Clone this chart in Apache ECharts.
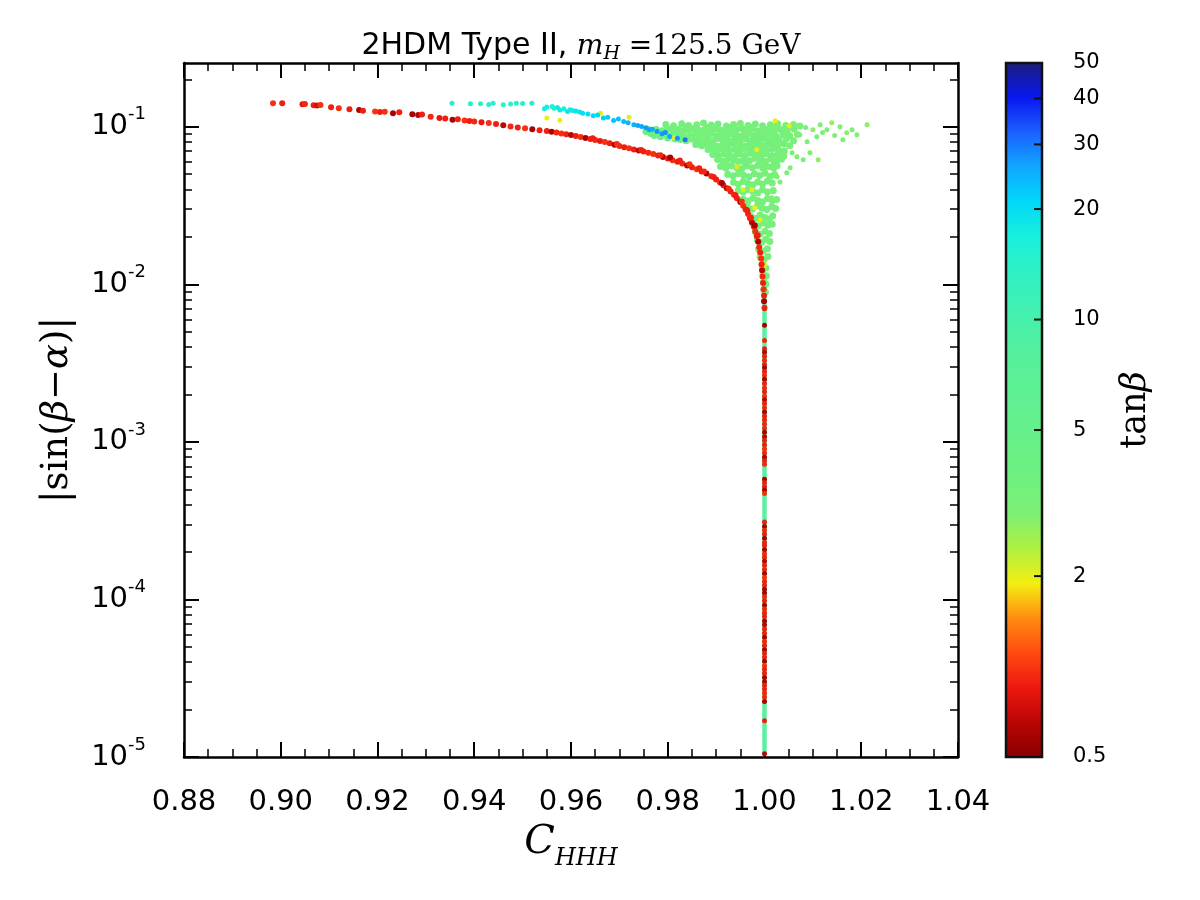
<!DOCTYPE html>
<html>
<head>
<meta charset="utf-8">
<script src="https://cdn.jsdelivr.net/npm/echarts@6/dist/echarts.min.js"></script>
<style>
html, body { margin: 0; padding: 0; background: #fff; }
#chart { width: 1200px; height: 900px; }
</style>
</head>
<body>
<div id="chart"></div>
<script>
// points are [C_HHH, |sin(beta-alpha)|, tan(beta)]

// red branch, tan(beta) < ~1.2
var redCurve = [
  [0.8984,0.141,1.1],[0.9003,0.141,1.02],[0.9045,0.139,0.95],[0.9050,0.1395,1.06],[0.9068,0.137,1.02],
  [0.9075,0.1365,0.88],[0.9082,0.1375,1.1],[0.9104,0.133,1.02],[0.9120,0.131,1.1],[0.9142,0.129,1.02],
  [0.9162,0.128,0.74],[0.9170,0.1265,1.02],[0.9195,0.125,1.12],[0.9205,0.124,1.02],[0.9215,0.1245,1.1],
  [0.9232,0.122,0.74],[0.9245,0.1235,1.02],[0.9272,0.120,0.72],[0.9284,0.119,0.8],[0.9292,0.1195,1.02],
  [0.9310,0.116,1.06],[0.9328,0.1135,0.98],[0.9340,0.113,1.02],[0.9355,0.111,0.74],[0.9366,0.1115,1.02],
  [0.9380,0.1098,1.1],[0.9390,0.109,1.02],
  [0.9400,0.1080,1.06],[0.9415,0.1070,0.98],[0.9430,0.1058,1.1],[0.9445,0.1040,1.02],[0.9460,0.1022,0.8],
  [0.9475,0.1005,1.06],[0.9490,0.0990,1.02],[0.9505,0.0978,1.1],[0.9520,0.0963,0.74],[0.9535,0.0952,1.02],
  [0.9550,0.0940,1.02],[0.9560,0.0930,0.74],[0.9570,0.0921,1.06],[0.9580,0.0908,1.1],[0.9590,0.0897,1.02],
  [0.9600,0.0886,0.8],[0.9610,0.0874,1.02],[0.9620,0.0862,1.1],[0.9630,0.0850,0.74],[0.9640,0.0836,1.02],
  [0.9650,0.0824,1.06],[0.9660,0.0812,0.98],[0.9670,0.0800,1.1],[0.9680,0.0785,1.02],[0.9690,0.0770,0.74],
  [0.9700,0.0756,1.06],[0.9710,0.0742,1.02],[0.9720,0.0730,1.1],[0.9730,0.0718,1.02],[0.9740,0.0708,0.8],
  [0.9750,0.0697,1.02],[0.9760,0.0684,1.06],[0.9770,0.0672,1.1],[0.9780,0.0657,1.02],[0.9790,0.0642,0.74],
  [0.9800,0.0628,1.02],[0.9810,0.0614,1.1],[0.9820,0.0600,1.02],[0.9830,0.0585,1.06],[0.9840,0.0568,0.8],
  [0.9850,0.0553,1.02],[0.9860,0.0538,1.1],[0.9870,0.0521,1.02],[0.9880,0.0505,0.74],[0.9890,0.0486,1.06],
  [0.9900,0.0463,1.02],[0.9908,0.0443,1.1],[0.9915,0.0425,1.02],[0.9922,0.0407,0.8],[0.9930,0.0388,1.02],
  [0.9937,0.0370,1.06],[0.9943,0.0352,1.02],[0.9950,0.0333,0.74],[0.9956,0.0315,1.1],[0.9961,0.0298,1.02],
  [0.9966,0.0280,1.06],[0.9970,0.0263,1.02],[0.9974,0.0247,0.8],[0.9978,0.0232,1.02],[0.9981,0.0217,1.1],
  [0.9984,0.0202,1.02],[0.9987,0.0186,0.74],[0.9989,0.0172,1.06],[0.9991,0.0159,1.02],[0.9993,0.0146,1.1],
  [0.9994,0.0134,1.02],[0.9995,0.0123,0.8],[0.9996,0.0112,1.06],[0.9997,0.0102,1.02],[0.9998,0.0093,1.1],
  [0.9999,0.0085,1.02],[0.9999,0.0078,0.74],[1.0000,0.0071,1.06],
  [0.9645,0.0845,1.02],[0.9695,0.0778,1.1],[0.9745,0.0712,1.02],[0.9785,0.0660,1.06],[0.9805,0.0638,0.74],
  [0.9825,0.0610,1.02],[0.9845,0.0578,1.1],[0.9865,0.0545,1.02],[0.9875,0.0520,1.06],[0.9895,0.0480,1.02],
  [0.9912,0.0440,0.74],[0.9926,0.0405,1.06],[0.9940,0.0368,1.02],[0.9953,0.0336,1.1],[0.9964,0.0295,1.02],
  [0.9972,0.0265,1.06],[0.9980,0.0236,0.74],[0.9986,0.0205,1.02]
];

// red points on the C_HHH = 1 stem
var redStem = [
  [1.0,7.0e-3,1.02],[1.0,5.5e-3,0.74],[1.0,4.4e-3,1.06],[1.0,3.9e-3,1.02],[1.0,3.7e-3,0.8],[1.0,3.5e-3,1.02],
  [1.0,3.3e-3,1.06],[1.0,3.1e-3,1.02],[1.0,2.95e-3,0.74],[1.0,2.8e-3,1.02],[1.0,2.65e-3,1.06],[1.0,2.5e-3,0.74],
  [1.0,2.35e-3,1.02],[1.0,2.2e-3,1.06],[1.0,2.08e-3,1.02],[1.0,1.95e-3,1.1],[1.0,1.85e-3,0.8],[1.0,1.75e-3,1.02],
  [1.0,1.65e-3,1.06],[1.0,1.55e-3,0.74],[1.0,1.46e-3,1.02],[1.0,1.38e-3,1.02],[1.0,1.3e-3,1.06],[1.0,1.22e-3,1.06],
  [1.0,1.15e-3,0.74],[1.0,1.08e-3,0.8],[1.0,1.02e-3,1.02],[1.0,9.6e-4,1.02],[1.0,9.0e-4,1.1],[1.0,8.5e-4,1.06],
  [1.0,8.0e-4,0.74],[1.0,7.6e-4,1.02],[1.0,7.2e-4,1.06],[1.0,5.8e-4,0.74],[1.0,5.5e-4,1.02],[1.0,5.2e-4,1.02],
  [1.0,4.95e-4,0.74],[1.0,4.7e-4,1.1],[1.0,3.1e-4,1.02],[1.0,2.9e-4,0.74],[1.0,2.75e-4,1.06],[1.0,2.6e-4,1.02],
  [1.0,2.45e-4,0.74],[1.0,2.3e-4,1.02],[1.0,2.2e-4,1.02],[1.0,2.07e-4,0.74],[1.0,1.95e-4,1.06],[1.0,1.85e-4,1.02],
  [1.0,1.75e-4,0.8],[1.0,1.65e-4,1.02],[1.0,1.55e-4,1.02],[1.0,1.46e-4,0.74],[1.0,1.38e-4,1.1],[1.0,1.3e-4,1.02],
  [1.0,1.23e-4,1.02],[1.0,1.16e-4,0.74],[1.0,1.1e-4,0.74],[1.0,1.04e-4,1.06],[1.0,9.8e-5,1.02],[1.0,9.2e-5,0.74],
  [1.0,8.7e-5,1.06],[1.0,8.2e-5,1.02],[1.0,7.8e-5,1.02],[1.0,7.3e-5,0.74],[1.0,6.9e-5,0.8],[1.0,6.5e-5,1.02],
  [1.0,6.1e-5,1.02],[1.0,5.75e-5,0.74],[1.0,5.4e-5,1.06],[1.0,5.1e-5,1.02],[1.0,4.8e-5,0.74],[1.0,4.55e-5,1.02],
  [1.0,4.3e-5,1.02],[1.0,4.05e-5,0.74],[1.0,3.8e-5,1.1],[1.0,3.6e-5,1.02],[1.0,3.4e-5,1.02],[1.0,3.2e-5,0.74],
  [1.0,3.0e-5,0.74],[1.0,2.85e-5,1.02],[1.0,2.7e-5,1.02],[1.0,2.55e-5,1.06],[1.0,2.4e-5,1.06],[1.0,2.25e-5,0.74],
  [1.0,1.7e-5,1.02],[1.0,1.05e-5,0.8]
];

// green band under the red stem (tan(beta) ~ 6)
var greenStem = [[1.0, 0.0115], [1.0, 1.05e-5]];

// green cloud, tan(beta) ~ 3-5
var greenCloud = [
  [0.9796,0.1035,3.4],[0.9812,0.1015,3.2],[0.9829,0.1045,3.5],[0.9843,0.1020,3.3],[0.9860,0.1030,3.1],
  [0.9874,0.1055,3.4],[0.9890,0.1025,3.3],[0.9904,0.1040,3.6],[0.9921,0.1010,3.2],[0.9936,0.1035,3.3],
  [0.9950,0.1050,3.0],[0.9966,0.1020,3.4],[0.9981,0.1040,3.3],[0.9996,0.1015,3.5],[1.0012,0.1030,3.2],
  [1.0027,0.1045,3.0],[1.0044,0.1020,3.3],[1.0060,0.1035,2.9],[1.0073,0.1010,3.1],
  [0.9776,0.0960,4.2],[0.9788,0.0945,3.8],[0.9800,0.0972,3.5],[0.9811,0.0950,3.4],[0.9822,0.0965,3.6],
  [0.9833,0.0942,3.3],[0.9844,0.0958,3.2],[0.9855,0.0975,3.4],[0.9866,0.0948,3.3],[0.9877,0.0962,3.1],
  [0.9888,0.0940,3.5],[0.9899,0.0968,3.3],[0.9910,0.0952,3.2],[0.9921,0.0970,3.4],[0.9932,0.0944,3.3],
  [0.9943,0.0960,3.6],[0.9954,0.0975,3.2],[0.9965,0.0948,3.3],[0.9976,0.0963,3.4],[0.9987,0.0941,3.1],
  [0.9998,0.0958,3.3],[1.0009,0.0972,3.5],[1.0020,0.0946,3.2],[1.0033,0.0962,3.3],[1.0047,0.0950,3.0],
  [1.0061,0.0967,3.2],
  [0.9796,0.0895,4.5],[0.9808,0.0880,4.0],[0.9820,0.0902,3.6],[0.9832,0.0885,3.4],[0.9844,0.0872,3.3],
  [0.9856,0.0896,3.5],[0.9867,0.0878,3.2],[0.9879,0.0890,3.3],[0.9890,0.0905,3.4],[0.9901,0.0876,3.3],
  [0.9912,0.0893,3.1],[0.9923,0.0881,3.5],[0.9934,0.0899,3.3],[0.9945,0.0870,3.2],[0.9956,0.0887,3.4],
  [0.9967,0.0902,3.3],[0.9978,0.0875,3.6],[0.9989,0.0892,3.2],[1.0000,0.0880,3.3],[1.0012,0.0897,3.4],
  [1.0024,0.0873,3.1],[1.0038,0.0889,3.3],[1.0052,0.0878,3.2],[1.0068,0.0893,3.0],
  [0.9826,0.0830,4.0],[0.9838,0.0815,3.6],[0.9850,0.0838,3.4],[0.9862,0.0822,3.3],[0.9873,0.0810,3.5],
  [0.9884,0.0834,3.2],[0.9895,0.0819,3.3],[0.9906,0.0842,3.4],[0.9917,0.0825,3.3],[0.9928,0.0812,3.1],
  [0.9939,0.0836,3.5],[0.9950,0.0820,3.3],[0.9961,0.0840,3.2],[0.9972,0.0816,3.4],[0.9983,0.0831,3.3],
  [0.9994,0.0845,3.6],[1.0005,0.0818,3.2],[1.0017,0.0833,3.3],[1.0030,0.0822,3.4],[1.0045,0.0838,3.1],
  [1.0060,0.0815,3.3],
  [0.9858,0.0772,3.6],[0.9870,0.0758,3.4],[0.9881,0.0780,3.3],[0.9892,0.0764,3.5],[0.9903,0.0752,3.2],
  [0.9914,0.0776,3.3],[0.9925,0.0760,3.4],[0.9936,0.0785,3.3],[0.9947,0.0768,3.1],[0.9958,0.0755,3.5],
  [0.9969,0.0778,3.3],[0.9980,0.0762,3.2],[0.9991,0.0783,3.4],[1.0002,0.0757,3.3],[1.0014,0.0774,3.6],
  [1.0027,0.0763,3.2],[1.0040,0.0779,3.3],[1.0052,0.0758,3.1],
  [0.9883,0.0718,3.4],[0.9894,0.0705,3.3],[0.9905,0.0726,3.5],[0.9916,0.0710,3.2],[0.9927,0.0698,3.3],
  [0.9938,0.0721,3.4],[0.9949,0.0707,3.3],[0.9960,0.0729,3.1],[0.9971,0.0712,3.5],[0.9982,0.0700,3.3],
  [0.9993,0.0723,3.2],[1.0004,0.0708,3.4],[1.0016,0.0725,3.3],[1.0029,0.0711,3.2],[1.0041,0.0702,3.4],
  [0.9893,0.0668,3.3],[0.9905,0.0655,3.5],[0.9916,0.0675,3.2],[0.9927,0.0660,3.3],[0.9938,0.0648,3.4],
  [0.9949,0.0671,3.3],[0.9960,0.0657,3.1],[0.9971,0.0678,3.5],[0.9982,0.0662,3.3],[0.9993,0.0650,3.2],
  [1.0004,0.0673,3.4],[1.0016,0.0658,3.3],[1.0028,0.0670,3.2],[1.0040,0.0653,3.0],
  [0.9903,0.0620,3.4],[0.9914,0.0607,3.3],[0.9925,0.0628,3.2],[0.9936,0.0612,3.5],[0.9947,0.0601,3.3],
  [0.9958,0.0624,3.4],[0.9969,0.0609,3.3],[0.9980,0.0630,3.1],[0.9991,0.0615,3.3],[1.0002,0.0603,3.5],
  [1.0013,0.0626,3.2],[1.0025,0.0611,3.3],[1.0035,0.0622,3.1],
  [0.9909,0.0560,3.3],[0.9920,0.0548,3.4],[0.9931,0.0566,3.2],[0.9942,0.0552,3.3],[0.9953,0.0541,3.5],
  [0.9964,0.0563,3.3],[0.9975,0.0550,3.2],[0.9986,0.0568,3.4],[0.9997,0.0545,3.3],[1.0008,0.0558,3.1],
  [1.0019,0.0547,3.3],[1.0026,0.0565,3.2],
  [0.9924,0.0500,3.3],[0.9935,0.0488,3.4],[0.9946,0.0506,3.2],[0.9957,0.0492,3.3],[0.9968,0.0482,3.5],
  [0.9979,0.0503,3.3],[0.9990,0.0490,3.2],[1.0001,0.0508,3.4],[1.0012,0.0486,3.3],[1.0021,0.0498,3.2],
  [0.9936,0.0444,3.4],[0.9946,0.0432,3.3],[0.9956,0.0450,3.2],[0.9966,0.0437,3.5],[0.9976,0.0428,3.3],
  [0.9986,0.0447,3.3],[0.9996,0.0434,3.2],[1.0006,0.0452,3.4],[1.0016,0.0440,3.3],
  [0.9946,0.0395,3.3],[0.9956,0.0385,3.4],[0.9966,0.0400,3.2],[0.9976,0.0388,3.3],[0.9986,0.0380,3.5],
  [0.9996,0.0398,3.3],[1.0006,0.0386,3.2],[1.0018,0.0394,3.3],
  [0.9956,0.0348,3.3],[0.9966,0.0338,3.4],[0.9976,0.0352,3.2],[0.9986,0.0341,3.3],[0.9996,0.0334,3.5],
  [1.0006,0.0350,3.3],[1.0016,0.0340,3.2],[1.0025,0.0346,3.1],
  [0.9965,0.0310,3.3],[0.9975,0.0301,3.4],[0.9985,0.0315,3.2],[0.9995,0.0304,3.3],[1.0005,0.0298,3.5],
  [1.0015,0.0312,3.3],[1.0023,0.0303,3.2],
  [0.9971,0.0271,3.3],[0.9981,0.0263,3.4],[0.9991,0.0275,3.2],[1.0001,0.0266,3.3],[1.0010,0.0260,3.5],
  [1.0017,0.0272,3.3],
  [0.9977,0.0242,3.3],[0.9987,0.0235,3.4],[0.9997,0.0245,3.2],[1.0007,0.0237,3.3],[1.0016,0.0241,3.3],
  [0.9981,0.0215,3.4],[0.9991,0.0208,3.3],[1.0001,0.0217,3.2],[1.0010,0.0210,3.3],
  [0.9985,0.0191,3.3],[0.9994,0.0185,3.4],[1.0003,0.0193,3.3],[1.0011,0.0187,3.2],
  [0.9988,0.0167,3.3],[0.9997,0.0162,3.4],[1.0006,0.0168,3.3],
  [0.9991,0.0149,3.3],[0.9999,0.0144,3.5],[1.0007,0.0150,3.3],
  [0.9995,0.0131,3.4],[1.0003,0.0127,3.3],
  [0.9997,0.0117,3.4],[1.0004,0.0113,3.3],
  [0.9998,0.0104,3.3],[1.0003,0.0100,3.4],
  [0.9999,0.0092,3.4],[1.0002,0.0089,3.3],
  [0.9760,0.0960,5.0],[0.9755,0.0935,4.8],[0.9765,0.0905,4.5],[0.9772,0.0880,4.2],[0.9785,0.0865,4.0],
  [0.9800,0.0850,3.8],[0.9815,0.0838,3.6],
  [0.9838,0.0990,3.3],[0.9885,0.0995,3.2],[0.9930,0.0992,3.4],[0.9975,0.0990,3.3],[1.0020,0.0995,3.1],
  [0.9870,0.0920,3.3],[0.9915,0.0918,3.4],[0.9960,0.0922,3.2],[1.0005,0.0920,3.3],[1.0045,0.0918,3.1],
  [0.9880,0.0795,3.3],[0.9930,0.0798,3.2],[0.9975,0.0796,3.4],[1.0020,0.0800,3.3],
  [0.9900,0.0690,3.4],[0.9945,0.0688,3.3],[0.9990,0.0692,3.2],[1.0030,0.0690,3.3],
  [0.9920,0.0585,3.3],[0.9960,0.0588,3.4],[1.0000,0.0584,3.2],[1.0020,0.0590,3.3]
];

// sparse wing to the right of the cloud
var greenWing = [
  [1.0073,0.0890,3.0],[1.0088,0.0803,3.1],[1.0100,0.0957,2.8],[1.0115,0.1030,3.0],[1.0108,0.0864,3.2],
  [1.0094,0.0683,2.9],[1.0080,0.0617,3.1],[1.0111,0.0617,2.8],[1.0129,0.0957,3.0],[1.0139,0.1060,2.7],
  [1.0156,0.1000,3.0],[1.0162,0.0827,3.1],[1.0170,0.0916,2.8],[1.0181,0.0957,3.0],[1.0191,0.0890,2.9],
  [1.0212,0.1030,2.8],[1.0046,0.0510,3.1],[1.0053,0.0549,3.0],[1.0067,0.0645,2.9],[1.0057,0.0683,3.2],
  [1.0026,0.0481,3.1],[1.0032,0.0447,3.0],[1.0018,0.0387,3.2],[1.0015,0.0354,3.1],[1.0085,0.0990,3.0],
  [1.0120,0.0920,2.9],[1.0145,0.0880,3.0]
];

// tan(beta) ~ 2 points
var yellowPts = [
  [1.0022,0.1092,1.95],[1.0051,0.1015,2.05],[0.9813,0.0852,2.0],[0.9943,0.0557,2.1],[0.9984,0.0714,2.0],
  [0.9956,0.0398,2.1],[0.9974,0.0398,2.0],[0.9980,0.0306,1.95],[0.9991,0.0257,2.05],[1.0001,0.0133,2.1],
  [0.9550,0.1135,1.95],[0.9577,0.1100,2.0],[0.9661,0.1220,2.0],[0.9720,0.1150,2.05]
];

// cyan / blue branch, tan(beta) ~ 14-30
var blueBranch = [
  [0.9354,0.141,15],[0.9392,0.140,15],[0.9413,0.140,14],[0.9439,0.141,15],[0.9460,0.138,14],
  [0.9487,0.141,15],[0.9519,0.141,15],[0.9430,0.1385,15],[0.9475,0.1395,14],[0.9500,0.1405,15],
  [0.9545,0.130,17],[0.9561,0.1346,16],[0.9577,0.128,18],[0.9593,0.125,19],[0.9603,0.127,18],
  [0.9624,0.122,20],[0.9646,0.1175,21],[0.9667,0.1135,22],[0.9688,0.1096,23],[0.9709,0.108,24],
  [0.9730,0.103,25],[0.9746,0.1003,26],[0.9762,0.0957,27],[0.9778,0.0933,28],[0.9788,0.0903,27],
  [0.9804,0.0868,26],[0.9820,0.0847,28],[0.9836,0.0826,30],
  [0.9550,0.1335,17],[0.9565,0.1310,16],[0.9572,0.1325,18],[0.9585,0.1300,17],[0.9598,0.1285,18],
  [0.9610,0.1260,19],[0.9618,0.1240,19],[0.9635,0.1205,20],[0.9655,0.1190,21],[0.9676,0.1150,22],
  [0.9698,0.1120,23],[0.9718,0.1060,25],[0.9738,0.1020,26],[0.9755,0.0985,27],[0.9768,0.0965,26],
  [0.9795,0.0920,28]
];

// axes
var xTicks = [0.88, 1.04];
var yDecades = [1e-5, 1e-4, 1e-3, 1e-2, 1e-1];
var yMinor = [
  2e-5,3e-5,4e-5,5e-5,6e-5,7e-5,8e-5,9e-5,
  2e-4,3e-4,4e-4,5e-4,6e-4,7e-4,8e-4,9e-4,
  2e-3,3e-3,4e-3,5e-3,6e-3,7e-3,8e-3,9e-3,
  2e-2,3e-2,4e-2,5e-2,6e-2,7e-2,8e-2,9e-2,
  2e-1
];
var yRange = [1e-5, 0.254];

// colour bar: log scale, its lower end (tan(beta) ~ 0.64) carries the label 0.5
var cbLabels = [0.5, 2, 5, 10, 20, 30, 40, 50];
var cbTicks = [2, 5, 10, 20, 30, 40];
var cbLow = 0.643, cbHigh = 50;
var jetColors = ['#880000','#bb0505','#ee1810','#ff4a10','#ff8c10','#f4ee12','#b0f040','#7cf074',
  '#70f080','#68f088','#62f090','#5af098','#50f0a2','#40f0b2','#30f0c4','#18f0dc','#00d8f8',
  '#10a8ff','#1c60ff','#0818f0','#1c1c7c'];

function lg(v) { return Math.log(v) / Math.LN10; }
function toSeries(arr) {
  return arr.map(function (p) { return [p[0], p[1], lg(p[2])]; });
}
var cbLabelPos = cbLabels.map(function (v) { return lg(Math.max(v, cbLow)); });

// gradient for the colour bar: same evenly spaced stops the visualMap uses, top = high
var cbStops = jetColors.map(function (c, i) {
  return { offset: 1 - i / (jetColors.length - 1), color: c };
}).reverse();

var chart = echarts.init(document.getElementById('chart'));

var axisLineBlack = { show: true, onZero: false, lineStyle: { color: '#000', width: 2.5 } };
var tickFont = 'DejaVu Sans';
var serif = 'DejaVu Serif';

function mainY(pos, minor, withLabel, name) {
  var ax = {
    type: 'log', gridIndex: 0, position: pos, min: yRange[0], max: yRange[1],
    splitLine: { show: false },
    axisLine: minor ? { show: false, onZero: false } : axisLineBlack,
    axisTick: {
      show: true, inside: true, length: minor ? 8 : 15,
      customValues: minor ? yMinor : yDecades,
      lineStyle: { color: '#000', width: minor ? 1.5 : 2 }
    },
    axisLabel: { show: false }
  };
  if (withLabel) {
    ax.axisLabel = {
      show: true, customValues: yDecades, margin: 38,
      formatter: function (v) {
        return '{b|10}{e|' + Math.round(lg(v)) + '}';
      },
      rich: {
        b: { fontFamily: tickFont, fontSize: 29, color: '#000' },
        e: { fontFamily: tickFont, fontSize: 18, color: '#000', padding: [0, 0, 24, 0] }
      }
    };
  }
  if (name) {
    ax.name = '{r||sin(}{g|\u03b2}{r|\u2212}{g|\u03b1}{r|)|}';
    ax.nameLocation = 'middle';
    ax.nameRotate = 90;
    ax.nameGap = 108;
    ax.nameTextStyle = {
      rich: {
        r: { fontFamily: serif, fontSize: 37, color: '#000' },
        g: { fontFamily: serif, fontSize: 37, fontStyle: 'italic', color: '#000' }
      }
    };
  }
  return ax;
}

function mainX(pos, withLabel) {
  var ax = {
    type: 'value', gridIndex: 0, position: pos, min: xTicks[0], max: xTicks[1], interval: 0.02,
    splitLine: { show: false },
    axisLine: axisLineBlack,
    axisTick: { show: true, inside: true, length: 15, lineStyle: { color: '#000', width: 2 } },
    minorTick: { show: true, splitNumber: 4, length: 8, lineStyle: { color: '#000', width: 1.5 } },
    axisLabel: { show: false }
  };
  if (withLabel) {
    ax.axisLabel = {
      show: true, margin: 31, color: '#000', fontFamily: tickFont, fontSize: 29,
      formatter: function (v) { return v.toFixed(2); }
    };
    ax.name = '{c|C}{s|HHH}';
    ax.nameLocation = 'middle';
    ax.nameGap = 58;
    ax.nameTextStyle = {
      rich: {
        c: { fontFamily: serif, fontSize: 40, fontStyle: 'italic', color: '#000' },
        s: { fontFamily: serif, fontSize: 24, fontStyle: 'italic', color: '#000', padding: [32, 0, 0, 0] }
      }
    };
  }
  return ax;
}

var option = {
  animation: false,
  backgroundColor: '#fff',
  title: {
    text: '{s|2HDM Type II, }{m|m}{h|H}{g| =125.5 GeV}',
    left: 576, top: 24, textAlign: 'center',
    textStyle: {
      fontWeight: 'normal',
      rich: {
        s: { fontFamily: tickFont, fontSize: 30, fontWeight: 'normal', color: '#000' },
        m: { fontFamily: serif, fontSize: 28, fontWeight: 'normal', fontStyle: 'italic', color: '#000' },
        h: { fontFamily: serif, fontSize: 19, fontWeight: 'normal', fontStyle: 'italic', color: '#000',
          padding: [16, 0, 0, 0] },
        g: { fontFamily: serif, fontSize: 28, fontWeight: 'normal', color: '#000' }
      }
    }
  },
  grid: [
    { left: 184, top: 63, width: 774, height: 694, outerBoundsMode: 'none' },
    { left: 1006, top: 63, width: 36, height: 694, outerBoundsMode: 'none' }
  ],
  xAxis: [
    mainX('bottom', true),
    mainX('top', false),
    { type: 'value', gridIndex: 1, position: 'bottom', min: 0, max: 1, show: false }
  ],
  yAxis: [
    mainY('left', false, true, true),
    mainY('left', true, false, false),
    mainY('right', false, false, false),
    mainY('right', true, false, false),
    {
      type: 'value', gridIndex: 1, position: 'right', min: lg(cbLow), max: lg(cbHigh),
      axisLine: { show: false, onZero: false }, splitLine: { show: false },
      axisTick: { show: false },
      axisLabel: {
        show: true, customValues: cbLabelPos, margin: 31, color: '#000',
        fontFamily: tickFont, fontSize: 21,
        formatter: function (v) {
          for (var i = 0; i < cbLabelPos.length; i++) {
            if (Math.abs(cbLabelPos[i] - v) < 1e-6) return String(cbLabels[i]);
          }
          return '';
        }
      },
      name: '{r|tan}{g|\u03b2}', nameLocation: 'middle', nameRotate: 90, nameGap: 76,
      nameTextStyle: {
        rich: {
          r: { fontFamily: serif, fontSize: 35, color: '#000' },
          g: { fontFamily: serif, fontSize: 35, fontStyle: 'italic', color: '#000' }
        }
      }
    }
  ],
  visualMap: {
    type: 'continuous', show: false, dimension: 2,
    min: lg(cbLow), max: lg(cbHigh),
    seriesIndex: [1, 2, 3, 4, 5, 6],
    inRange: { color: jetColors }
  },
  series: [
    { type: 'line', xAxisIndex: 0, yAxisIndex: 0, data: greenStem, symbol: 'none', z: 1,
      lineStyle: { color: '#5cf0a0', width: 4.5 } },
    { type: 'scatter', xAxisIndex: 0, yAxisIndex: 0, data: toSeries(greenCloud), symbolSize: 7, z: 3,
      itemStyle: { opacity: 1 } },
    { type: 'scatter', xAxisIndex: 0, yAxisIndex: 0, data: toSeries(greenWing), symbolSize: 5, z: 3,
      itemStyle: { opacity: 1 } },
    { type: 'scatter', xAxisIndex: 0, yAxisIndex: 0, data: toSeries(yellowPts), symbolSize: 5, z: 4,
      itemStyle: { opacity: 1 } },
    { type: 'scatter', xAxisIndex: 0, yAxisIndex: 0, data: toSeries(blueBranch), symbolSize: 5, z: 4,
      itemStyle: { opacity: 1 } },
    { type: 'scatter', xAxisIndex: 0, yAxisIndex: 0, data: toSeries(redCurve), symbolSize: 6, z: 5,
      itemStyle: { opacity: 1 } },
    { type: 'scatter', xAxisIndex: 0, yAxisIndex: 0, data: toSeries(redStem), symbolSize: 5, z: 5,
      itemStyle: { opacity: 1 } },
    // colour bar: gradient body, frame and inner ticks, placed through grid 1's axes
    { type: 'custom', xAxisIndex: 2, yAxisIndex: 4, silent: true, clip: false, z: 6,
      data: [[0, lg(cbLow), 1, lg(cbHigh)]],
      encode: { x: [0, 2], y: [1, 3] },
      renderItem: function (params, api) {
        var p0 = api.coord([api.value(0), api.value(3)]);
        var p1 = api.coord([api.value(2), api.value(1)]);
        var children = [{
          type: 'rect', z2: 0,
          shape: { x: p0[0], y: p0[1], width: p1[0] - p0[0], height: p1[1] - p0[1] },
          style: { fill: new echarts.graphic.LinearGradient(0, 0, 0, 1, cbStops) }
        }, {
          type: 'rect', z2: 2,
          shape: { x: p0[0], y: p0[1], width: p1[0] - p0[0], height: p1[1] - p0[1] },
          style: { fill: 'none', stroke: '#111', lineWidth: 2.5 }
        }];
        cbTicks.forEach(function (v) {
          var t = api.coord([1, lg(v)]);
          children.push({
            type: 'line', z2: 3,
            shape: { x1: t[0] - 8, y1: t[1], x2: t[0], y2: t[1] },
            style: { stroke: '#111', lineWidth: 2 }
          });
        });
        return { type: 'group', children: children };
      }
    }
  ]
};

chart.setOption(option);
</script>
</body>
</html>
